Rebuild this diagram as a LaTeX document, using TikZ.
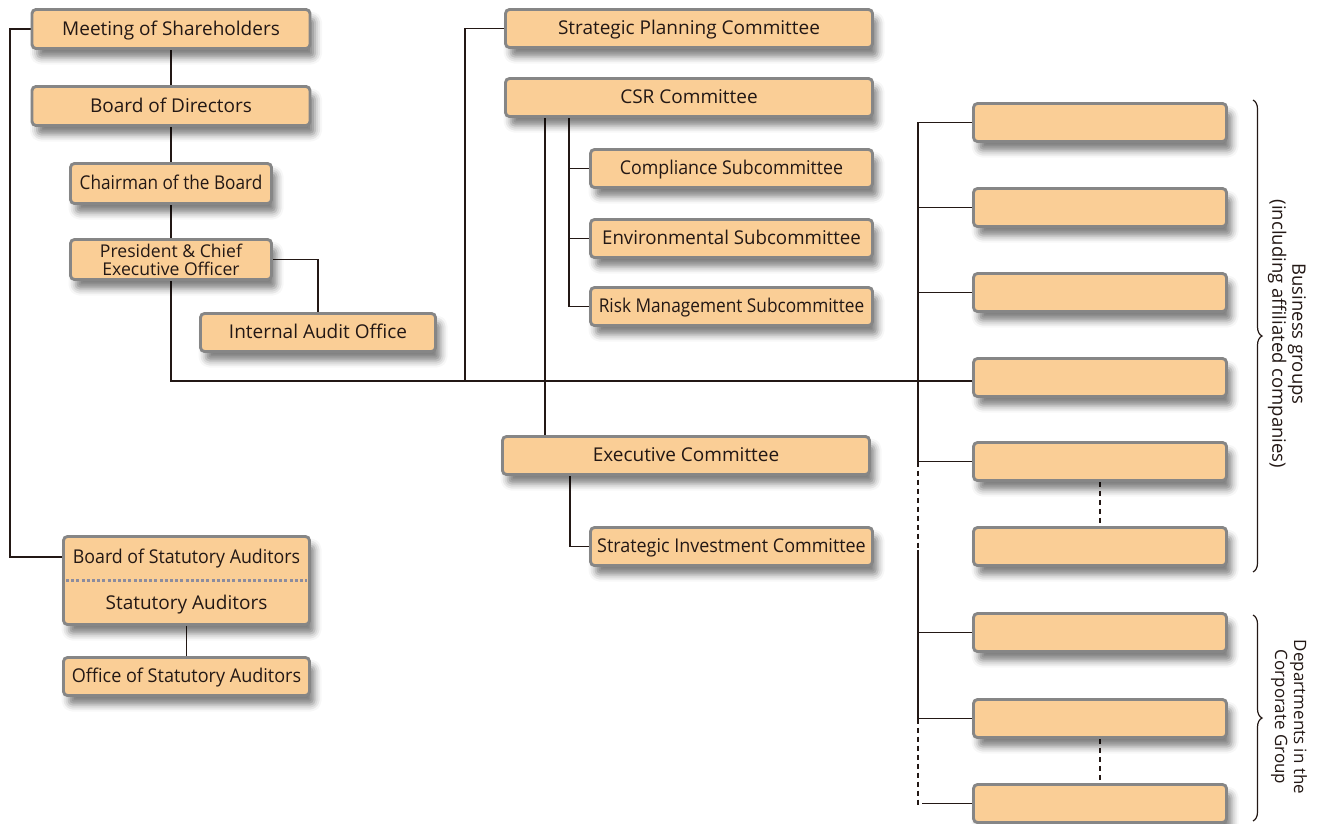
\documentclass[tikz,border=0pt]{standalone}
\usepackage{graphicx}
\usepackage{fontspec}
\setmainfont{Open Sans}
\usetikzlibrary{shadows.blur,decorations.pathreplacing,backgrounds}
\definecolor{boxfill}{RGB}{250,206,150}
\definecolor{boxline}{RGB}{134,134,134}
\definecolor{ink}{RGB}{35,24,21}
\definecolor{dotc}{RGB}{140,140,158}
\newcommand{\sqz}[2]{\scalebox{#1}[1]{#2}}
\begin{document}
\begin{tikzpicture}[x=1pt,y=-1pt,
  boxbase/.style={draw=boxline, line width=2.9pt, fill=boxfill, rounded corners=4pt, inner sep=0pt, align=center, text=ink,
    font=\fontsize{19}{20}\selectfont,
    blur shadow={shadow xshift=5pt, shadow yshift=-9pt, shadow blur radius=7pt, shadow opacity=50}},
  box/.style={boxbase, text height=16.5pt, text depth=4pt},
  wbox/.style={box, minimum width=278pt, minimum height=39pt},
  cbox/.style={box, minimum width=367pt, minimum height=38pt},
  sbox/.style={box, minimum width=282pt, minimum height=38pt},
  rbox/.style={box, minimum width=253pt, minimum height=38pt},
  lbl/.style={inner sep=0pt, text=ink, font=\fontsize{19}{20}\selectfont, align=center},
  lbl1/.style={lbl, text height=16.5pt, text depth=4pt},
  conn/.style={draw=ink, line width=1.4pt},
  dconn/.style={conn, dash pattern=on 5pt off 4pt},
  brc/.style={draw=ink, line width=1.2pt, decorate, decoration={brace, amplitude=9pt}}]
\useasboundingbox (0,0) rectangle (1319,823);

% left column
\node[wbox] (ms) at (171,29) {Meeting of Shareholders};
\node[wbox] (bd) at (171,106) {Board of Directors};
\node[box, minimum width=201pt, minimum height=40pt] (ch) at (171,183.5) {\sqz{0.905}{Chairman of the Board}};
\node[boxbase, minimum width=201pt, minimum height=40pt, font=\fontsize{17.6}{18}\selectfont] (pc) at (171,259.5) {President \& Chief\\Executive Officer};
\node[box, minimum width=235pt, minimum height=38pt] (ia) at (318,332.5) {Internal Audit Office};

\node[boxbase, minimum width=246pt, minimum height=88pt] (sa) at (186.5,580.5) {};
\node[lbl1] (sat) at (186.5,557) {\sqz{0.936}{Board of Statutory Auditors}};
\node[lbl1] (sab) at (186.5,603) {Statutory Auditors};
\draw[dotc, line width=3pt, dash pattern=on 3pt off 2.2pt] ([xshift=4pt]sa.west) -- ([xshift=-4pt]sa.east);
\node[box, minimum width=246pt, minimum height=38pt] (osa) at (186.5,676.5) {\sqz{0.949}{Office of Statutory Auditors}};

% middle column
\node[cbox] (sp) at (689,28.5) {Strategic Planning Committee};
\node[cbox] (csr) at (689,97.5) {CSR Committee};
\node[sbox] (cs) at (731.5,168.5) {\sqz{0.937}{Compliance Subcommittee}};
\node[sbox] (es) at (731.5,238.5) {\sqz{0.983}{Environmental Subcommittee}};
\node[sbox] (rs) at (731.5,306.5) {\sqz{0.908}{Risk Management Subcommittee}};
\node[cbox] (ec) at (686,455.5) {Executive Committee};
\node[sbox] (si) at (731.5,546.5) {\sqz{0.944}{Strategic Investment Committee}};

% right column
\node[rbox] (r1) at (1100,122.5) {};
\node[rbox] (r2) at (1100,207.5) {};
\node[rbox] (r3) at (1100,292.5) {};
\node[rbox] (r4) at (1100,377.5) {};
\node[rbox] (r5) at (1100,461.5) {};
\node[rbox] (r6) at (1100,546.5) {};
\node[rbox] (r7) at (1100,632.5) {};
\node[rbox] (r8) at (1100,718.5) {};
\node[rbox] (r9) at (1100,803.5) {};

% coordinates
\coordinate (lft) at (10,0);
\coordinate (main) at (0,381);
\coordinate (spx) at (465,0);
\coordinate (csrl) at (545,0);
\coordinate (csrs) at (569,0);
\coordinate (ecs) at (570,0);
\coordinate (bus) at (918,0);
\coordinate (busmid) at (918,550);
\coordinate (busend) at (918,806);
\coordinate (r9st) at (922,0);

\begin{scope}[on background layer]
\draw[conn] (ms.south) -- (bd.north);
\draw[conn] (bd.south) -- (ch.north);
\draw[conn] (ch.south) -- (pc.north);
\draw[conn] (pc.east) -| (ia.north);
\draw[conn] (ms.west) -- (lft |- ms.west) -- (lft |- sat) -- (sa.west |- sat);
\draw[conn] (sa.south -| osa.north) -- (osa.north);
\draw[conn] (pc.south) -- (pc.south |- main) -- (r4.west |- main);
\draw[conn] (sp.west) -- (spx |- sp.west) -- (spx |- main);
\draw[conn] (csrl |- csr.south) -- (csrl |- ec.north);
\draw[conn] (csrs |- csr.south) |- (rs.west);
\draw[conn] (csrs |- cs.west) -- (cs.west);
\draw[conn] (csrs |- es.west) -- (es.west);
\draw[conn] (ecs |- ec.south) |- (si.west);
% right bus
\draw[conn] (r1.west) -- (bus |- r1.west) -- (bus |- r5.west) -- (r5.west);
\draw[conn] (r2.west) -- (bus |- r2.west);
\draw[conn] (r3.west) -- (bus |- r3.west);
\draw[dconn] (bus |- r5.west) -- (busmid);
\draw[conn] (busmid) -- (bus |- r8.west) -- (r8.west);
\draw[conn] (r7.west) -- (bus |- r7.west);
\draw[dconn] (bus |- r8.west) -- (busend);
\draw[conn] (r9st |- r9.west) -- (r9.west);
\draw[dconn] (r5.south) -- (r6.north);
\draw[dconn] (r8.south) -- (r9.north);
\end{scope}

% braces
\coordinate (b1t) at (1253,100);
\coordinate (b1b) at (1253,572);
\coordinate (b2t) at (1253,615);
\coordinate (b2b) at (1253,821);
\draw[brc] (b1t) -- (b1b);
\draw[brc] (b2t) -- (b2b);
\node[lbl, rotate=-90, font=\fontsize{18.5}{20}\selectfont] (bg) at (1287,334) {Business groups\\(including affiliated companies)};
\node[lbl, rotate=-90, font=\fontsize{17}{19}\selectfont] (dcg) at (1289,717) {Departments in the\\Corporate Group};
\end{tikzpicture}
\end{document}
